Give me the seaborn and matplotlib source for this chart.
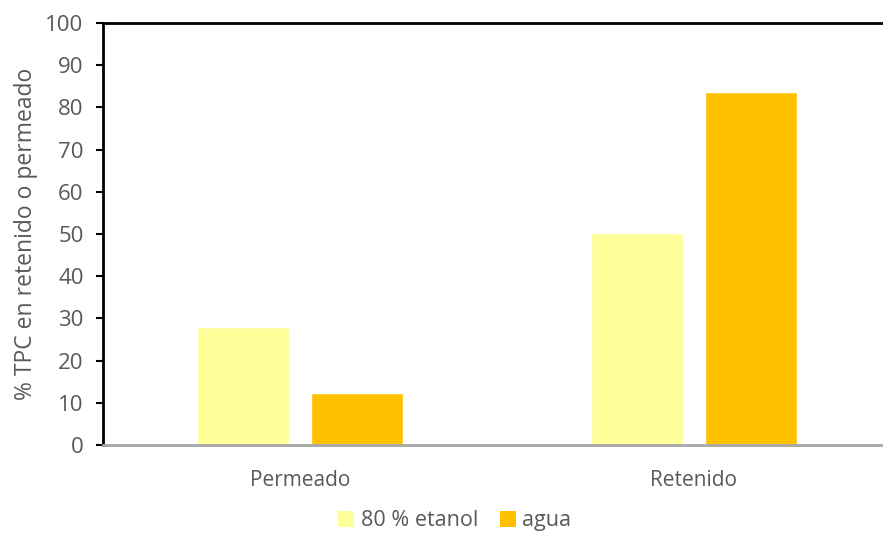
import matplotlib
matplotlib.use("Agg")
import matplotlib.pyplot as plt
import seaborn as sns
import pandas as pd
from matplotlib.patches import Patch

categories = ["Permeado", "Retenido"]
series = ["80 % etanol", "agua"]
etanol_values = [28.0, 50.2]
agua_values = [12.3, 83.7]
colors = ["#FFFF99", "#FFC000"]
yticks = [0, 10, 20, 30, 40, 50, 60, 70, 80, 90, 100]

df = pd.DataFrame({
    "categoria": categories * 2,
    "serie": [series[0]] * 2 + [series[1]] * 2,
    "valor": etanol_values + agua_values,
})

sns.set_theme(style="white")
plt.rcParams["font.family"] = ["Open Sans", "DejaVu Sans"]
text_color = "#595959"

fig = plt.figure(figsize=(8.83, 5.39), dpi=100)
ax = fig.add_axes([103 / 883, 1 - 445 / 539, (891 - 103) / 883, (445 - 23) / 539])

sns.barplot(data=df, x="categoria", y="valor", hue="serie", order=categories,
            hue_order=series, palette=colors, width=0.58, gap=0.2,
            saturation=1, ax=ax, legend=False)

ax.set_xlim(-0.5, 1.5)
ax.set_ylim(0, 100)
ax.set_yticks(yticks)
ax.set_yticklabels([str(v) for v in yticks], color=text_color, fontsize=16)
ax.tick_params(axis="y", direction="out", length=5, width=1.5, color="black", pad=9, left=True)
ax.tick_params(axis="x", length=0, pad=18, labelsize=15, labelcolor=text_color)
ax.set_xlabel("")
ax.set_ylabel("% TPC en retenido o permeado", fontsize=16.5, color=text_color, labelpad=5)

for side in ["left", "top"]:
    ax.spines[side].set_color("black")
    ax.spines[side].set_linewidth(2)
ax.spines["bottom"].set_color("#A6A6A6")
ax.spines["bottom"].set_linewidth(2)
ax.spines["right"].set_visible(False)

handles = [Patch(facecolor=c, edgecolor="none") for c in colors]
fig.legend(handles, series, loc="lower center", bbox_to_anchor=(0.515, -0.022), ncol=2,
           frameon=False, fontsize=15.5, labelcolor=text_color, handlelength=0.75,
           handleheight=0.75, handletextpad=0.3, columnspacing=1.0)

fig.savefig("out.png", dpi=100)
